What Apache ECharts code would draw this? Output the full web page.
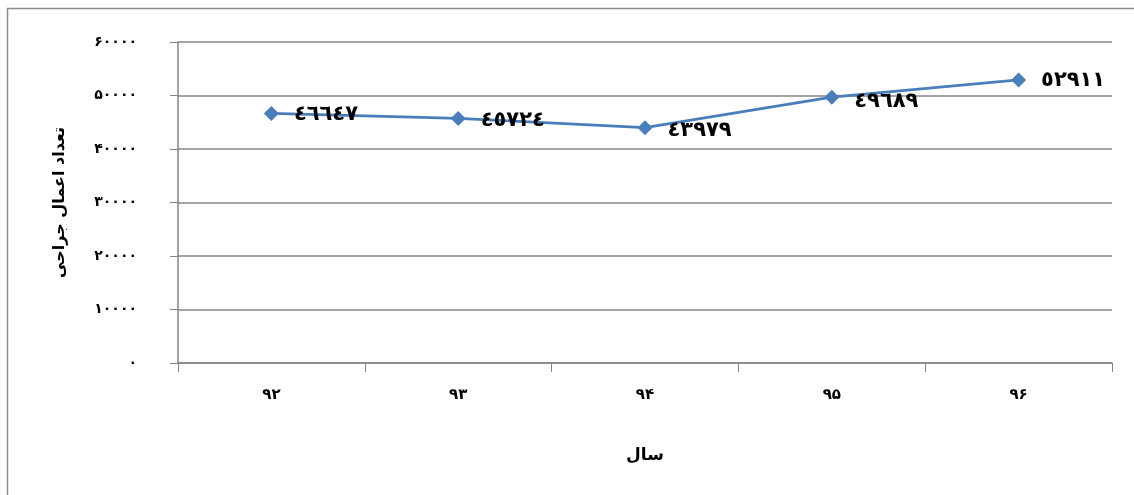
<!DOCTYPE html>
<html><head><meta charset="utf-8">
<script src="https://cdn.jsdelivr.net/npm/echarts@6/dist/echarts.min.js"></script>
<style>html,body{margin:0;padding:0;background:#fff}#c{width:1134px;height:495px}</style>
</head><body><div id="c"></div>
<script>
const categories = ['۹۲','۹۳','۹۴','۹۵','۹۶'];
const values = [46647, 45724, 43979, 49689, 52911];
const yTickLabels = ['۰','۱۰۰۰۰','۲۰۰۰۰','۳۰۰۰۰','۴۰۰۰۰','۵۰۰۰۰','۶۰۰۰۰'];
const arabicDigits = '٠١٢٣٤٥٦٧٨٩';
const toArabic = n => String(n).replace(/\d/g, d => arabicDigits[d]);
const labelOffsets = [[0,1],[0,2],[0,3],[0,4],[0,1]];

const chart = echarts.init(document.getElementById('c'), null, {renderer:'canvas'});
const font = '"DejaVu Sans", "Noto Sans", sans-serif';
chart.setOption({
  animation:false,
  graphic:[{type:'rect', shape:{x:7.5,y:8.5,width:1140,height:500}, style:{fill:'none',stroke:'#8c8c8c',lineWidth:1.5}, z:-1}],
  grid:{left:178,right:22,top:42,bottom:132},
  xAxis:{type:'category',data:categories,boundaryGap:true,
    name:'سال',nameLocation:'middle',nameGap:84,
    nameTextStyle:{fontFamily:font,fontWeight:'bold',fontSize:17,color:'#000'},
    axisLine:{lineStyle:{color:'#868686',width:1.5}},
    axisTick:{show:true,length:9,alignWithLabel:false,lineStyle:{color:'#868686'}},
    axisLabel:{fontFamily:font,fontWeight:'bold',fontSize:15,color:'#000',margin:25}},
  yAxis:{type:'value',min:0,max:60000,interval:10000,
    name:'تعداد اعمال جراحی',nameLocation:'middle',nameGap:110,nameRotate:90,
    nameTextStyle:{fontFamily:font,fontWeight:'bold',fontSize:16,color:'#000'},
    axisLine:{show:true,lineStyle:{color:'#868686',width:1.5}},
    axisTick:{show:true,length:8,lineStyle:{color:'#868686'}},
    splitLine:{lineStyle:{color:'#868686',width:1.5}},
    axisLabel:{fontFamily:font,fontWeight:'bold',fontSize:14,color:'#000',margin:41,
      formatter:(v)=>yTickLabels[Math.round(v/10000)]}},
  series:[{type:'line',data:values.map((v,i)=>({value:v,label:{offset:labelOffsets[i]}})),
    symbol:'diamond',symbolSize:15,
    lineStyle:{color:'#4A7EBB',width:2.8},
    itemStyle:{color:'#4A7EBB'},
    label:{show:true,position:'right',distance:15,fontFamily:font,fontWeight:'bold',fontSize:21,color:'#000',
      formatter:p=>toArabic(p.value)}}]
});
</script></body></html>
